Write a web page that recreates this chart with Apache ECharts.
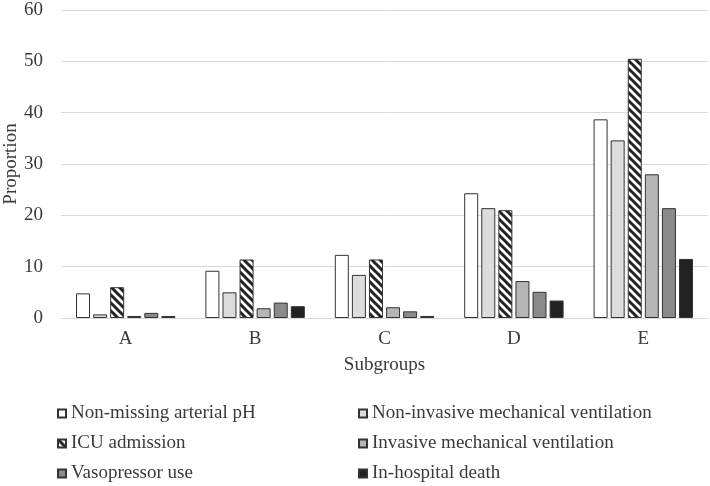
<!DOCTYPE html>
<html>
<head>
<meta charset="utf-8">
<script src="https://cdn.jsdelivr.net/npm/echarts@6/dist/echarts.min.js"></script>
<style>
    html, body { margin: 0; padding: 0; background: #fff; }
    #chart { width: 710px; height: 486px; }
</style>
</head>
<body>
<div id="chart"></div>
<script>
    const categories = ['A', 'B', 'C', 'D', 'E'];
    const nonMissingPH = [4.8, 9.2, 12.3, 24.3, 38.7];
    const nonInvasiveMV = [0.7, 5.0, 8.4, 21.4, 34.6];
    const icuAdmission = [6.0, 11.4, 11.4, 21.0, 50.5];
    const invasiveMV = [0.4, 1.9, 2.1, 7.2, 28.0];
    const vasopressor = [1.0, 3.0, 1.3, 5.1, 21.4];
    const inHospitalDeath = [0.4, 2.3, 0.4, 3.4, 11.5];
    const yTicks = [0, 10, 20, 30, 40, 50, 60];

    // diagonal hatch for ICU admission
    function hatch() {
        const s = 8;
        const c = document.createElement('canvas');
        c.width = s; c.height = s;
        const ctx = c.getContext('2d');
        ctx.fillStyle = '#fff';
        ctx.fillRect(0, 0, s, s);
        ctx.strokeStyle = '#222';
        ctx.lineWidth = 3;
        ctx.beginPath();
        ctx.moveTo(-2, -2); ctx.lineTo(s + 2, s + 2);
        ctx.moveTo(-s - 2, -2); ctx.lineTo(2, s + 2);
        ctx.moveTo(s - 2, -2); ctx.lineTo(2 * s + 2, s + 2);
        ctx.stroke();
        return { image: c, repeat: 'repeat' };
    }

    const font = 'Liberation Serif';
    const textColor = '#3a3a3a';

    const chart = echarts.init(document.getElementById('chart'));

    function bar(name, data, color) {
        return {
            name: name,
            type: 'bar',
            data: data,
            barWidth: 14,
            barGap: '22%',
            itemStyle: { color: color, borderColor: '#333', borderWidth: 1 }
        };
    }

    const legendCommon = {
        orient: 'vertical',
        top: 404,
        padding: 0,
        itemWidth: 8,
        itemHeight: 8,
        itemGap: 11,
        icon: 'rect',
        textStyle: { fontFamily: font, fontSize: 19, lineHeight: 19, color: textColor }
    };

    chart.setOption({
        animation: false,
        textStyle: { fontFamily: font },
        grid: { left: 61, right: 2, top: 10, bottom: 168, containLabel: false, outerBoundsMode: 'none' },
        legend: [
            Object.assign({}, legendCommon, {
                left: 57,
                data: ['Non-missing arterial pH', 'ICU admission', 'Vasopressor use']
            }),
            Object.assign({}, legendCommon, {
                left: 358,
                data: ['Non-invasive mechanical ventilation', 'Invasive mechanical ventilation', 'In-hospital death']
            })
        ],
        xAxis: {
            type: 'category',
            data: categories,
            name: 'Subgroups',
            nameLocation: 'middle',
            nameGap: 38,
            nameMoveOverlap: false,
            nameTextStyle: { fontFamily: font, fontSize: 19, color: textColor },
            axisLine: { lineStyle: { color: '#d9d9d9', width: 1 } },
            axisTick: { show: false },
            axisLabel: { fontFamily: font, fontSize: 19, color: textColor, margin: 12 }
        },
        yAxis: {
            type: 'value',
            min: yTicks[0],
            max: yTicks[yTicks.length - 1],
            interval: 10,
            name: 'Proportion',
            nameLocation: 'middle',
            nameGap: 40,
            nameMoveOverlap: false,
            nameTextStyle: { fontFamily: font, fontSize: 19, color: textColor },
            axisLine: { show: false },
            axisTick: { show: false },
            splitLine: { lineStyle: { color: '#d9d9d9', width: 1 } },
            axisLabel: { fontFamily: font, fontSize: 19, color: textColor, margin: 18 }
        },
        series: [
            bar('Non-missing arterial pH', nonMissingPH, '#ffffff'),
            bar('Non-invasive mechanical ventilation', nonInvasiveMV, '#dcdcdc'),
            bar('ICU admission', icuAdmission, hatch()),
            bar('Invasive mechanical ventilation', invasiveMV, '#b5b5b5'),
            bar('Vasopressor use', vasopressor, '#8a8a8a'),
            bar('In-hospital death', inHospitalDeath, '#222222')
        ]
    });
</script>
</body>
</html>
